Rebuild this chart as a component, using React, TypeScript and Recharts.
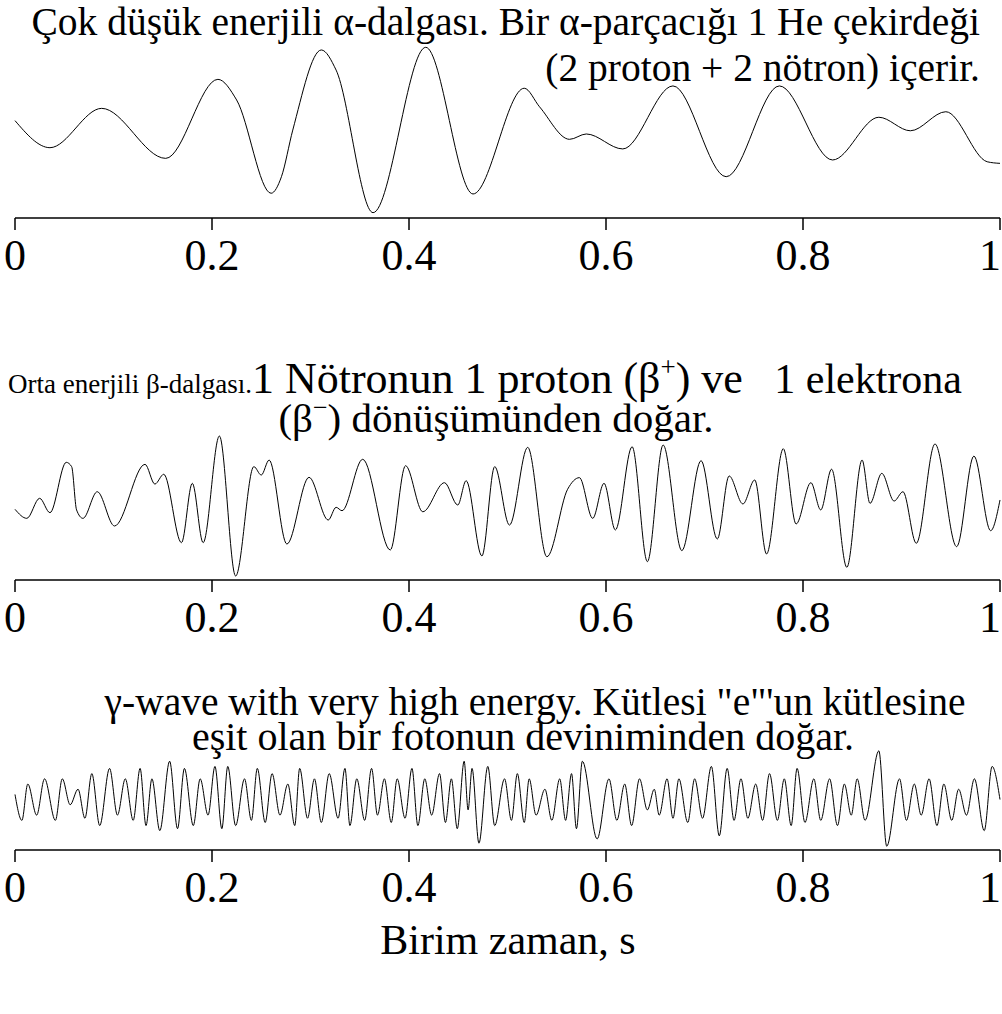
import { LineChart, Line, XAxis, YAxis } from "recharts";

const X_TICKS = [0, 0.2, 0.4, 0.6, 0.8, 1];

// alpha wave (very low energy)
const ALPHA_T = [0, 0.0355, 0.088, 0.153, 0.206, 0.225, 0.26, 0.2705, 0.282, 0.311, 0.326, 0.3635, 0.417, 0.465, 0.517, 0.5325, 0.563, 0.58, 0.617, 0.668, 0.722, 0.776, 0.83, 0.877, 0.909, 0.945, 0.987, 1];
const ALPHA_V = [0.547, 0.395, 0.616, 0.335, 0.779, 0.663, 0.139, 0.232, 0.494, 0.944, 0.831, 0.03, 0.959, 0.135, 0.729, 0.625, 0.442, 0.472, 0.388, 0.742, 0.232, 0.742, 0.326, 0.566, 0.49, 0.597, 0.316, 0.307];

// beta wave (medium energy)
const BETA_T = [0, 0.012, 0.025, 0.0355, 0.052, 0.0575, 0.0625, 0.069, 0.0835, 0.101, 0.132, 0.142, 0.151, 0.169, 0.18, 0.191, 0.2075, 0.224, 0.2425, 0.25, 0.258, 0.276, 0.2985, 0.318, 0.326, 0.332, 0.353, 0.381, 0.3965, 0.414, 0.436, 0.4495, 0.458, 0.474, 0.487, 0.502, 0.5205, 0.54, 0.561, 0.573, 0.5865, 0.598, 0.6095, 0.6265, 0.642, 0.658, 0.677, 0.6965, 0.713, 0.725, 0.739, 0.751, 0.763, 0.78, 0.793, 0.808, 0.818, 0.829, 0.8445, 0.86, 0.868, 0.88, 0.8925, 0.9015, 0.915, 0.934, 0.956, 0.9735, 0.9905, 1];
const BETA_V = [0.462, 0.403, 0.534, 0.44, 0.769, 0.741, 0.458, 0.403, 0.577, 0.353, 0.756, 0.627, 0.691, 0.244, 0.632, 0.244, 0.941, 0.026, 0.741, 0.686, 0.784, 0.235, 0.671, 0.392, 0.475, 0.453, 0.789, 0.196, 0.747, 0.446, 0.636, 0.49, 0.649, 0.157, 0.741, 0.359, 0.867, 0.152, 0.593, 0.669, 0.403, 0.632, 0.327, 0.871, 0.12, 0.882, 0.192, 0.78, 0.268, 0.68, 0.497, 0.654, 0.17, 0.858, 0.366, 0.636, 0.458, 0.724, 0.083, 0.784, 0.501, 0.697, 0.516, 0.577, 0.24, 0.889, 0.218, 0.81, 0.322, 0.523];

// gamma wave (very high energy)
const GAMMA_T = [0, 0.007, 0.013, 0.022, 0.03, 0.041, 0.048, 0.056, 0.064, 0.071, 0.078, 0.086, 0.096, 0.104, 0.112, 0.12, 0.127, 0.133, 0.139, 0.147, 0.157, 0.165, 0.172, 0.181, 0.188, 0.196, 0.203, 0.21, 0.216, 0.224, 0.233, 0.24, 0.246, 0.254, 0.261, 0.269, 0.277, 0.284, 0.289, 0.297, 0.304, 0.311, 0.319, 0.328, 0.335, 0.34, 0.347, 0.355, 0.362, 0.368, 0.375, 0.382, 0.388, 0.396, 0.403, 0.409, 0.416, 0.423, 0.431, 0.437, 0.443, 0.449, 0.456, 0.46, 0.464, 0.471, 0.48, 0.487, 0.497, 0.504, 0.51, 0.517, 0.522, 0.529, 0.538, 0.545, 0.553, 0.559, 0.565, 0.57, 0.576, 0.591, 0.603, 0.611, 0.619, 0.626, 0.634, 0.642, 0.649, 0.654, 0.662, 0.668, 0.674, 0.683, 0.69, 0.698, 0.707, 0.715, 0.723, 0.73, 0.737, 0.744, 0.752, 0.759, 0.766, 0.774, 0.781, 0.788, 0.794, 0.802, 0.811, 0.818, 0.827, 0.835, 0.842, 0.849, 0.855, 0.863, 0.877, 0.885, 0.898, 0.905, 0.913, 0.92, 0.928, 0.936, 0.943, 0.951, 0.958, 0.966, 0.974, 0.984, 0.992, 1];
const GAMMA_V = [0.448, 0.239, 0.532, 0.281, 0.574, 0.239, 0.574, 0.365, 0.49, 0.256, 0.616, 0.197, 0.658, 0.281, 0.574, 0.239, 0.658, 0.197, 0.574, 0.156, 0.716, 0.172, 0.658, 0.197, 0.574, 0.281, 0.674, 0.172, 0.674, 0.197, 0.574, 0.239, 0.658, 0.222, 0.616, 0.281, 0.532, 0.197, 0.658, 0.256, 0.574, 0.222, 0.616, 0.256, 0.658, 0.197, 0.574, 0.239, 0.658, 0.281, 0.574, 0.222, 0.574, 0.256, 0.658, 0.197, 0.574, 0.281, 0.616, 0.222, 0.574, 0.172, 0.716, 0.323, 0.658, 0.055, 0.674, 0.197, 0.574, 0.239, 0.616, 0.222, 0.574, 0.281, 0.49, 0.239, 0.574, 0.239, 0.616, 0.172, 0.716, 0.089, 0.574, 0.239, 0.532, 0.197, 0.574, 0.323, 0.49, 0.281, 0.574, 0.256, 0.574, 0.222, 0.574, 0.256, 0.674, 0.114, 0.658, 0.239, 0.574, 0.256, 0.532, 0.239, 0.616, 0.239, 0.574, 0.197, 0.658, 0.222, 0.574, 0.239, 0.574, 0.197, 0.532, 0.281, 0.574, 0.239, 0.8, 0.03, 0.574, 0.239, 0.532, 0.281, 0.574, 0.197, 0.532, 0.239, 0.49, 0.281, 0.574, 0.156, 0.674, 0.407];

const FONT = "'Liberation Serif', 'Times New Roman', serif";

const toRows = (ts: number[], vs: number[]) => ts.map((t, i) => ({ t, v: vs[i] }));

// last tick ("1") sits flush with the right edge
function TickLabel(props: any) {
  const { x, y, payload } = props;
  const last = payload.value === X_TICKS[X_TICKS.length - 1];
  return (
    <text x={last ? x + 1 : x} y={y} dy="0.71em" textAnchor={last ? "end" : "middle"} fontSize={44} fill="#000" fontFamily={FONT}>
      {String(payload.value)}
    </text>
  );
}

type PanelProps = { top: number; height: number; mt: number; ts: number[]; vs: number[] };

function Panel({ top, height, mt, ts, vs }: PanelProps) {
  return (
    <div style={{ position: "absolute", left: 0, top }}>
      <LineChart width={1002} height={height} data={toRows(ts, vs)} margin={{ top: mt, right: 2, bottom: 0, left: 15 }}>
        <XAxis
          type="number"
          dataKey="t"
          domain={[0, 1]}
          ticks={X_TICKS}
          interval={0}
          tickSize={12}
          tickMargin={9}
          axisLine={{ stroke: "#000", strokeWidth: 1.5 }}
          tickLine={{ stroke: "#000", strokeWidth: 1.5 }}
          tick={<TickLabel />}
          height={75}
        />
        <YAxis domain={[0, 1]} tick={false} tickLine={false} width={0} axisLine={{ stroke: "#333", strokeWidth: 1 }} />
        <YAxis yAxisId="r" orientation="right" domain={[0, 1]} tick={false} tickLine={false} width={0} axisLine={{ stroke: "#333", strokeWidth: 1 }} />
        <Line type="monotone" dataKey="v" stroke="#000" strokeWidth={1} dot={false} isAnimationActive={false} />
      </LineChart>
    </div>
  );
}

export default function App() {
  const txt = { fontFamily: FONT, fill: "#000", whiteSpace: "pre" as const };
  return (
    <div style={{ position: "absolute", left: 0, top: 0, width: 1002, height: 1014, background: "#fff" }}>
      <Panel top={0} height={293} mt={40} ts={ALPHA_T} vs={ALPHA_V} />
      <Panel top={400} height={255} mt={27} ts={BETA_T} vs={BETA_V} />
      <Panel top={700} height={225} mt={26} ts={GAMMA_T} vs={GAMMA_V} />
      <svg width={1002} height={1014} style={{ position: "absolute", left: 0, top: 0, pointerEvents: "none" }}>
        <text x={980} y={35} textAnchor="end" fontSize={39.5} style={txt}>Çok düşük enerjili α-dalgası. Bir α-parçacığı 1 He çekirdeği</text>
        <text x={980} y={81} textAnchor="end" fontSize={39.5} style={txt}>(2 proton + 2 nötron) içerir.</text>

        <text x={8} y={393} fontSize={44} style={txt}>
          <tspan fontSize={27}>Orta enerjili β-dalgası.</tspan>
          <tspan>1 Nötronun 1 proton (β</tspan>
          <tspan fontSize={27} dy={-17}>+</tspan>
          <tspan dy={17}>) ve</tspan>
        </text>
        <text x={962} y={393} textAnchor="end" fontSize={42} style={txt}>1 elektrona</text>
        <text x={496} y={432} textAnchor="middle" fontSize={41} style={txt}>
          <tspan>(β</tspan>
          <tspan fontSize={26} dy={-16}>−</tspan>
          <tspan dy={16}>) dönüşümünden doğar.</tspan>
        </text>

        <text x={535} y={715} textAnchor="middle" fontSize={39.5} style={txt}>γ-wave with very high energy. Kütlesi "e"'un kütlesine</text>
        <text x={523} y={750} textAnchor="middle" fontSize={40} style={txt}>eşit olan bir fotonun deviniminden doğar.</text>

        <text x={508} y={954} textAnchor="middle" fontSize={42} style={txt}>Birim zaman, s</text>
      </svg>
    </div>
  );
}
